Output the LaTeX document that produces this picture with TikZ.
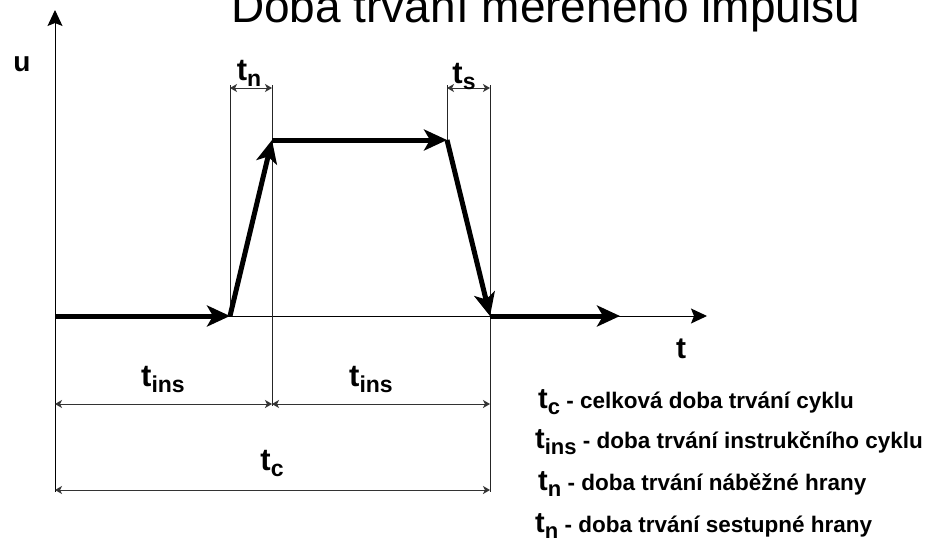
\documentclass[tikz,border=0pt]{standalone}
\usepackage{fontspec}
\setmainfont{Liberation Sans}
\usetikzlibrary{arrows.meta}
\newcommand\tlab[1]{{\fontsize{31}{31}\selectfont t}\raisebox{-6pt}{\fontsize{23}{23}\selectfont #1}}
\newcommand\tleg[1]{{\fontsize{29}{29}\selectfont t}\raisebox{-6pt}{\fontsize{22}{22}\selectfont #1}}
\begin{document}
\begin{tikzpicture}[x=1pt,y=-1pt,
  vline/.style={line width=1pt,draw=black!85},
  axis/.style={line width=1pt,draw=black,-{Stealth[length=16pt,width=15pt,inset=3pt]}},
  pulse/.style={line width=5pt,draw=black,-{Stealth[length=23pt,width=21pt,inset=6pt]}},
  dim/.style={line width=1pt,draw=black!80,{Stealth[length=7pt,width=8pt,inset=2pt]}-{Stealth[length=7pt,width=8pt,inset=2pt]}},
  lbl/.style={inner sep=0pt,font=\bfseries},
  legend/.style={inner sep=0pt,anchor=west,font=\bfseries\fontsize{22.5}{22.5}\selectfont}]
\useasboundingbox[fill=white] (0,0) rectangle (928,543);
% title (cut off at top)
\node[inner sep=0pt,anchor=base west,font=\fontsize{46}{46}\selectfont] (title) at (231,23) {Doba trvání měřeného impulsu};
% coordinates
\coordinate (O) at (55,316);
\coordinate (A) at (230,316);
\coordinate (B) at (272,140);
\coordinate (C) at (447,140);
\coordinate (D) at (490,316);
\coordinate (E) at (620,316);
\coordinate (Tend) at (707,316);
\coordinate (Utop) at (55,10);
\coordinate (Ubot) at (55,492);
\coordinate (An) at (230,85);
\coordinate (Bn) at (272,85);
\coordinate (Bb) at (272,406);
\coordinate (Cn) at (447,85);
\coordinate (Dn) at (490,85);
\coordinate (Db) at (490,492);
% axes
\draw[axis] (Ubot) -- (Utop);
\draw[axis] (O) -- (Tend);
% vertical guide lines
\draw[vline] (An) -- (A);
\draw[vline] (Bn) -- (Bb);
\draw[vline] (Cn) -- (C);
\draw[vline] (Dn) -- (Db);
% dimension arrows
\draw[dim] (230,88) -- (272,88);
\draw[dim] (447,88) -- (490,88);
\draw[dim] (55,404) -- (272,404);
\draw[dim] (272,404) -- (490,404);
\draw[dim] (55,490) -- (490,490);
% pulse
\draw[pulse] (O) -- (A);
\draw[pulse] (A) -- (B);
\draw[pulse] (B) -- (C);
\draw[pulse] (C) -- (D);
\draw[pulse] (D) -- (E);
% labels
\node[lbl,font=\bfseries\fontsize{28}{28}\selectfont] (u) at (22,64) {u};
\node[lbl,font=\bfseries\fontsize{30}{30}\selectfont] (t) at (681,349) {t};
\node[lbl] (ln) at (249,73) {\tlab{n}};
\node[lbl] (ls) at (464,77) {\tlab{s}};
\node[lbl] (li1) at (163,379) {\tlab{ins}};
\node[lbl] (li2) at (371,379) {\tlab{ins}};
\node[lbl] (lc) at (272,463) {\tlab{c}};
% legend
\node[legend] (g1) at (538,402) {\tleg{c} - celková doba trvání cyklu};
\node[legend] (g2) at (535,442) {\tleg{ins} - doba trvání instrukčního cyklu};
\node[legend] (g3) at (538,484) {\tleg{n} - doba trvání náběžné hrany};
\node[legend] (g4) at (535,526) {\tleg{n} - doba trvání sestupné hrany};
\end{tikzpicture}
\end{document}
